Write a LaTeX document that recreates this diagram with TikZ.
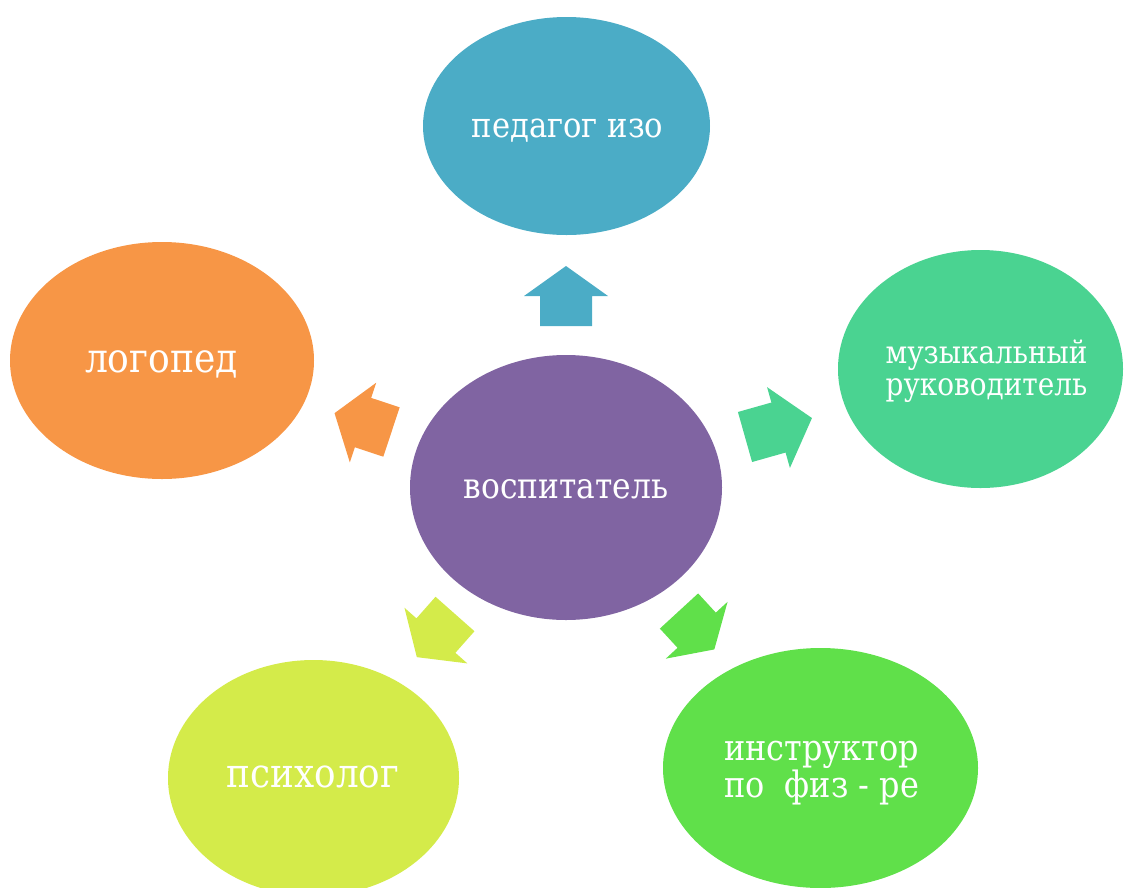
\documentclass[tikz,border=0pt]{standalone}
\usepackage{fontspec}
\setmainfont{DejaVu Serif}[FakeStretch=0.88]
\usetikzlibrary{shapes.geometric}
\definecolor{cblue}{HTML}{4BACC6}
\definecolor{cpurple}{HTML}{8064A2}
\definecolor{corange}{HTML}{F79646}
\definecolor{cteal}{HTML}{4AD391}
\definecolor{cyellow}{HTML}{D4EB4A}
\definecolor{cgreen}{HTML}{60E04A}
\begin{document}
\begin{tikzpicture}[x=1pt,y=-1pt,
  bubble/.style={ellipse, inner sep=0pt, draw=none},
  lbl/.style={text=white, anchor=base, inner sep=0pt, align=center},
  blockarrow/.pic={\fill[#1] (0,-26) -- (30,-26) -- (30,-42) -- (60,0) -- (30,42) -- (30,26) -- (0,26) -- cycle;}]
\useasboundingbox (0,0) rectangle (1128,887);
\clip (0,0) rectangle (1128,887);
% bubbles
\node[bubble, fill=cpurple, minimum width=312pt, minimum height=265pt] (center) at (566,487.5) {};
\node[bubble, fill=cblue, minimum width=287pt, minimum height=218pt] (izo) at (566.5,126) {};
\node[bubble, fill=cteal, minimum width=285pt, minimum height=238pt] (music) at (980.5,369) {};
\node[bubble, fill=corange, minimum width=304pt, minimum height=237pt] (logo) at (162,360.5) {};
\node[bubble, fill=cyellow, minimum width=291pt, minimum height=236pt] (psy) at (313.5,778) {};
\node[bubble, fill=cgreen, minimum width=315pt, minimum height=240pt] (fiz) at (820.5,768) {};
% arrows
\pic[rotate=90] at (566,326) {blockarrow=cblue};
\pic[rotate=161.7] at (391.5,432) {blockarrow=corange};
\pic[rotate=15.8, xscale=1.16] at (745,437) {blockarrow=cteal};
\pic[rotate=228.5, xscale=0.96] at (455,614) {blockarrow=cyellow};
\pic[rotate=-47.4, xscale=0.87] at (679,611) {blockarrow=cgreen};
% labels
\node[lbl, font=\fontsize{35.6}{38}\selectfont] (tcenter) at (566,498) {воспитатель};
\node[lbl, font=\fontsize{34.8}{37}\selectfont] (tizo) at (567.5,137) {педагог изо};
\node[lbl, font=\fontsize{31.7}{32}\selectfont] (tmusic) at (986.5,395) {музыкальный\\руководитель};
\node[lbl, font=\fontsize{41}{43}\selectfont] (tlogo) at (161.5,372) {логопед};
\node[lbl, font=\fontsize{40.6}{42}\selectfont] (tpsy) at (313,787) {психолог};
\node[lbl, font=\fontsize{36.3}{34}\selectfont] (tfiz) at (821.5,797) {инструктор\\по\ \ физ - ре};
\end{tikzpicture}
\end{document}
